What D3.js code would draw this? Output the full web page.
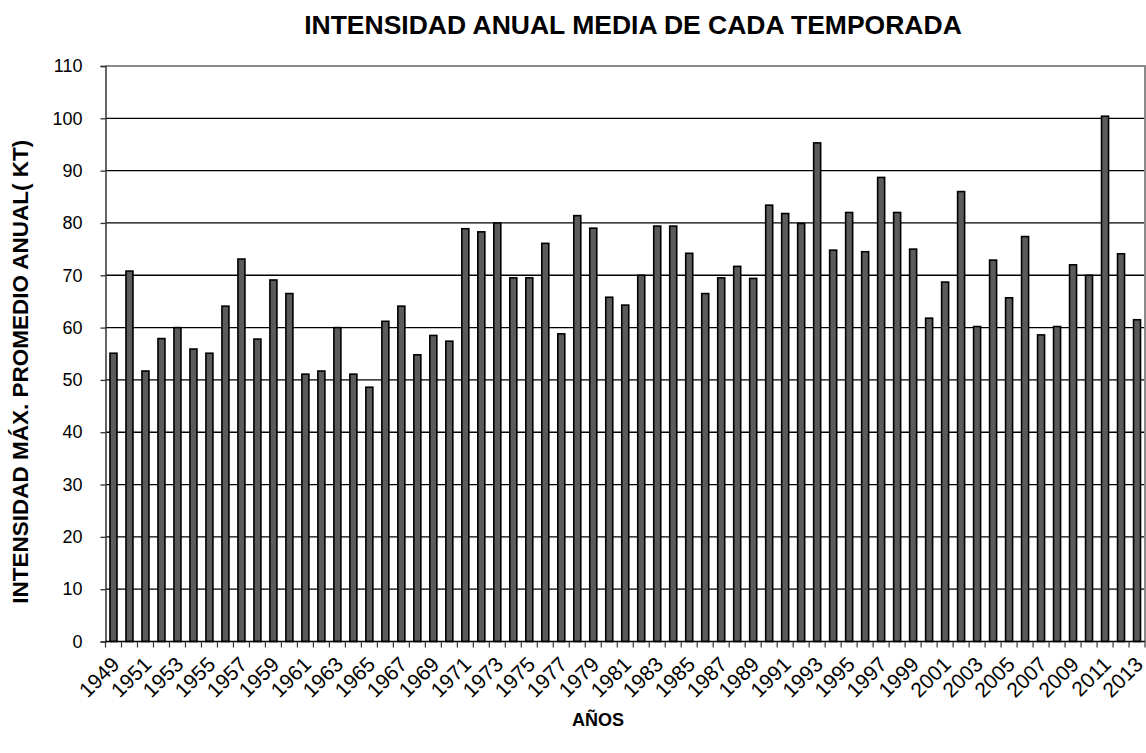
<!DOCTYPE html>
<html>
<head>
<meta charset="utf-8">
<script src="https://cdn.jsdelivr.net/npm/d3@7"></script>
<style>
body { margin: 0; background: #fff; }
text { font-family: Arial, "Liberation Sans", sans-serif; fill: #000; }
</style>
</head>
<body>
<svg id="svg_elem"></svg>
<script>
//define data
const years = d3.range(1949, 2014);
const intensity = [
	55.1, 70.8, 51.7, 57.9, 60.0, 55.9, 55.1, 64.1, 73.1, 57.8,
	69.1, 66.5, 51.1, 51.7, 60.0, 51.1, 48.6, 61.2, 64.1, 54.8,
	58.5, 57.4, 78.9, 78.3, 80.0, 69.5, 69.5, 76.1, 58.8, 81.4,
	79.0, 65.8, 64.3, 70.0, 79.4, 79.4, 74.2, 66.5, 69.5, 71.7,
	69.4, 83.4, 81.8, 79.9, 95.3, 74.8, 82.0, 74.5, 88.7, 82.0,
	75.0, 61.8, 68.7, 86.0, 60.2, 72.9, 65.7, 77.4, 58.6, 60.2,
	72.0, 70.0, 100.4, 74.1, 61.5
];
const yTicks = d3.range(0, 111, 10);
const xLabels = years.filter((d, i) => i % 2 == 0);

//define constants
const svgWidth = 1146;
const svgHeight = 753;
const plotLeft = 105.5;
const plotRight = 1145;
const plotTop = 66;
const plotBottom = 641.5;

const data = years.map((y, i) => ({year: y, value: intensity[i]}));

const svg = d3.select('#svg_elem')
	.attr('width', svgWidth)
	.attr('height', svgHeight);

//scales
const xScale = d3.scaleBand()
	.domain(years)
	.range([plotLeft, plotRight])
	.paddingInner(0.5625)
	.paddingOuter(0.28);

const yScale = d3.scaleLinear()
	.domain([0, 110])
	.range([plotBottom, plotTop]);

//gridlines
svg.append('g')
	.selectAll('line')
	.data(yTicks.filter(d => d > 0 && d < 110))
	.enter()
	.append('line')
		.attr('x1', plotLeft)
		.attr('x2', plotRight)
		.attr('y1', d => yScale(d))
		.attr('y2', d => yScale(d))
		.attr('stroke', '#000')
		.attr('stroke-width', 1.3);

//frame top and right
svg.append('path')
	.attr('d', `M${plotLeft},${plotTop}H${plotRight}V${plotBottom}`)
	.attr('fill', 'none')
	.attr('stroke', '#8a8a8a')
	.attr('stroke-width', 2);

//bars
svg.append('g')
	.selectAll('rect')
	.data(data)
	.enter()
	.append('rect')
		.attr('x', d => xScale(d.year))
		.attr('width', xScale.bandwidth())
		.attr('y', d => yScale(d.value))
		.attr('height', d => yScale(0) - yScale(d.value))
		.attr('fill', '#5b5b5b')
		.attr('stroke', '#000')
		.attr('stroke-width', 1.6);

//y axis
const yAxis = d3.axisLeft(yScale)
	.tickValues(yTicks)
	.tickSize(5)
	.tickPadding(18);
const yG = svg.append('g')
	.attr('transform', `translate(${plotLeft},0)`)
	.call(yAxis);
yG.select('.domain').attr('stroke', '#333').attr('stroke-width', 1.5);
yG.selectAll('.tick line').attr('stroke', '#333').attr('stroke-width', 1.3);
yG.selectAll('text').style('font-size', '18px').attr('fill', '#000');

//x axis, ticks at category boundaries
const xG = svg.append('g');
xG.append('line')
	.attr('x1', plotLeft)
	.attr('x2', plotRight)
	.attr('y1', plotBottom)
	.attr('y2', plotBottom)
	.attr('stroke', '#000')
	.attr('stroke-width', 1.5);
xG.selectAll('.xtick')
	.data(d3.range(years.length + 1))
	.enter()
	.append('line')
		.classed('xtick', true)
		.attr('x1', i => plotLeft + i * xScale.step())
		.attr('x2', i => plotLeft + i * xScale.step())
		.attr('y1', plotBottom)
		.attr('y2', plotBottom + 6)
		.attr('stroke', '#333')
		.attr('stroke-width', 1.2);
xG.selectAll('.xlabel')
	.data(xLabels)
	.enter()
	.append('text')
		.classed('xlabel', true)
		.attr('text-anchor', 'end')
		.attr('transform', d => `translate(${xScale(d) + xScale.bandwidth() / 2 + 2},${plotBottom + 19}) rotate(-45)`)
		.attr('dy', '0.35em')
		.style('font-size', '21px')
		.text(d => d);

//titles
svg.append('text')
	.attr('x', 633)
	.attr('y', 34)
	.attr('text-anchor', 'middle')
	.style('font-size', '26.5px')
	.style('font-weight', 'bold')
	.text('INTENSIDAD ANUAL MEDIA DE CADA TEMPORADA');

svg.append('text')
	.attr('transform', `translate(28,${(plotTop + plotBottom) / 2 + 18}) rotate(-90)`)
	.attr('text-anchor', 'middle')
	.style('font-size', '22.5px')
	.style('font-weight', 'bold')
	.text('INTENSIDAD MÁX. PROMEDIO ANUAL( KT)');

svg.append('text')
	.attr('x', 598)
	.attr('y', 726)
	.attr('text-anchor', 'middle')
	.style('font-size', '18px')
	.style('font-weight', 'bold')
	.text('AÑOS');
</script>
</body>
</html>
